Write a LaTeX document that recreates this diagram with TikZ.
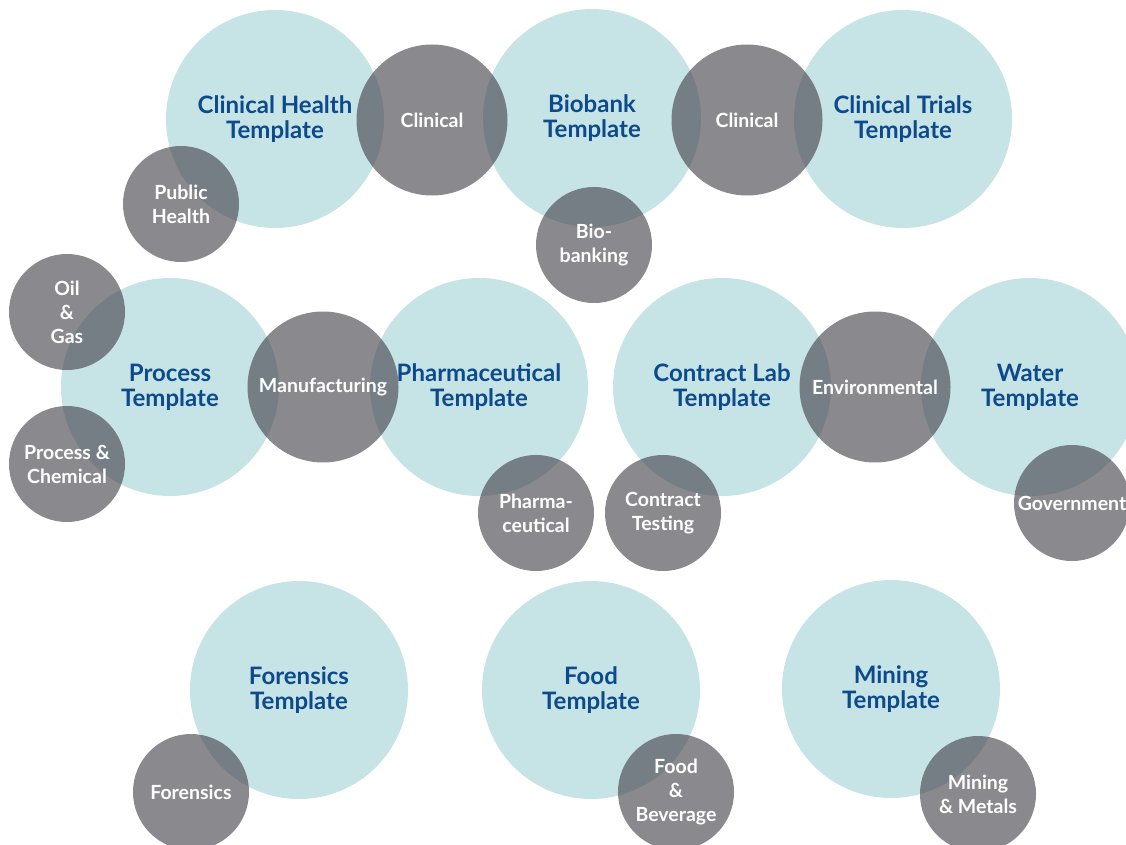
\documentclass[tikz,border=0pt]{standalone}
\usepackage{fontspec}
\setmainfont{Lato}
\usetikzlibrary{calc}
\definecolor{tealfill}{RGB}{198,227,230}
\definecolor{greyfill}{RGB}{66,65,73}
\definecolor{titleblue}{RGB}{12,74,140}
\tikzset{
	tmpl/.style={circle, fill=tealfill, inner sep=0pt, minimum size=218pt, text=titleblue, align=center, font=\bfseries\fontsize{24}{25}\selectfont},
	field/.style={circle, fill=greyfill, fill opacity=0.62, text opacity=1, text=white, inner sep=0pt, align=center, font=\bfseries\fontsize{19.5}{24}\selectfont},
	bigfield/.style={field, minimum size=151pt},
	smallfield/.style={field, minimum size=116pt}
}

\begin{document}
\begin{tikzpicture}[x=1pt,y=-1pt]
			%%%%% START %%%%%
			\useasboundingbox (0,0) rectangle (1126,845);
			
			% templates
			\node[tmpl] (chealth) at (275, 119) {Clinical Health\\Template};
			\node[tmpl] (biobank) at (592, 118) {Biobank\\Template};
			\node[tmpl] (ctrials) at (903, 119) {Clinical Trials\\Template};
			
			\node[tmpl] (process) at (170, 387) {Process\\Template};
			\node[tmpl] (pharma) at (479, 387) {Pharmaceutical\\Template};
			\node[tmpl] (contract) at (722, 387) {Contract Lab\\Template};
			\node[tmpl] (water) at (1030, 387) {Water\\Template};
			
			\node[tmpl] (forensics) at (299, 690) {Forensics\\Template};
			\node[tmpl] (food) at (591, 690) {Food\\Template};
			\node[tmpl] (mining) at (891, 689) {Mining\\Template};
			
			% fields
			\node[bigfield] (clinA) at (432, 120) {Clinical};
			\node[bigfield] (clinB) at (747, 120) {Clinical};
			\node[smallfield] (public) at (181, 204) {Public\\Health};
			\node[smallfield] (biobanking) at (594, 245) {Bio-\\banking};
			
			\node[smallfield] (oilgas) at (67, 312) {Oil\\\&\\Gas};
			\node[smallfield] (chemical) at (67, 464) {Process \&\\Chemical};
			\node[bigfield] (manuf) at (323, 387) {Manufacturing};
			\node[smallfield] (pharmaf) at (536, 513) {Pharma-\\ceutical};
			\node[smallfield] (testing) at (663, 513) {Contract\\Testing};
			\node[bigfield] (environ) at (875, 387) {Environmental};
			\node[smallfield] (govt) at (1072, 503) {Government};
			
			\node[smallfield] (forensicsf) at (191, 792) {Forensics};
			\node[smallfield] (beverage) at (676, 792) {Food\\\&\\Beverage};
			\node[smallfield] (metals) at (978, 794) {Mining\\\& Metals};
			
			%%%%% END %%%%%
\end{tikzpicture}
\end{document}
